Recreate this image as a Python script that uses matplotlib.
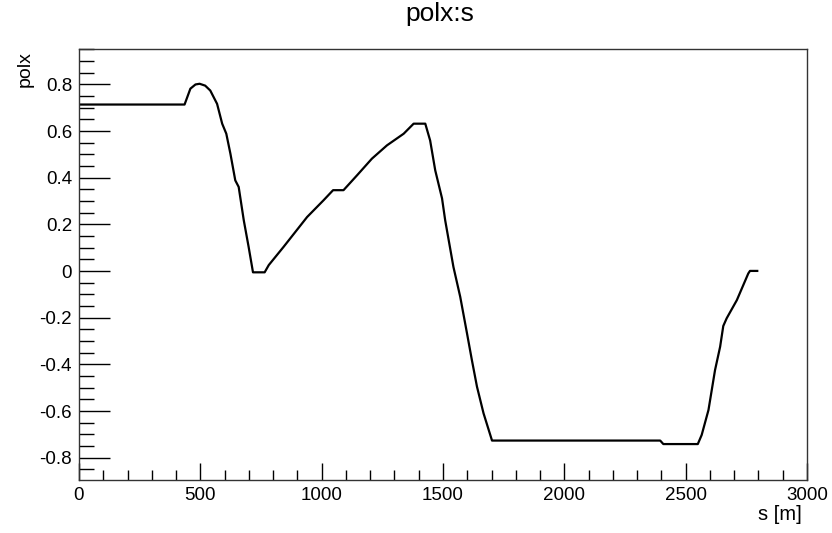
import numpy as np
import matplotlib.pyplot as plt
from matplotlib.ticker import MultipleLocator

# polx vs s
s = [0, 435, 459, 480, 497, 520, 541, 569, 590, 607, 624, 644, 658, 679, 699, 717,
     765, 782, 843, 940, 1008, 1047, 1090, 1146, 1207, 1269, 1338, 1379, 1427,
     1447, 1468, 1496, 1509, 1543, 1571, 1599, 1619, 1640, 1667, 1702,
     2395, 2408, 2550, 2566, 2594, 2621, 2642, 2655, 2669, 2711, 2758, 2765, 2795]
polx = [0.714, 0.714, 0.782, 0.800, 0.803, 0.795, 0.774, 0.717, 0.632, 0.589, 0.503,
        0.389, 0.361, 0.218, 0.104, -0.005,
        -0.005, 0.026, 0.104, 0.232, 0.304, 0.347, 0.347, 0.411, 0.482, 0.539, 0.589,
        0.632, 0.632,
        0.560, 0.432, 0.312, 0.218, 0.018, -0.110, -0.267, -0.381, -0.495, -0.609, -0.726,
        -0.726, -0.741, -0.741, -0.702, -0.595, -0.424, -0.324, -0.235, -0.202, -0.124,
        -0.010, 0.001, 0.001]

plt.rcParams['font.family'] = ['Liberation Sans', 'DejaVu Sans']

fig = plt.figure(figsize=(8.32, 5.33), dpi=100)
ax = fig.add_axes([79 / 832, 1 - 480 / 533, (807 - 79) / 832, (480 - 49) / 533])

ax.plot(s, polx, color='black', lw=1.6)

ax.set_xlim(0, 3000)
ax.set_ylim(-0.895, 0.952)

ax.xaxis.set_major_locator(MultipleLocator(500))
ax.xaxis.set_minor_locator(MultipleLocator(100))
ax.yaxis.set_major_locator(MultipleLocator(0.2))
ax.yaxis.set_minor_locator(MultipleLocator(0.05))
ax.yaxis.set_major_formatter(plt.FuncFormatter(lambda v, p: '0' if abs(v) < 1e-9 else f'{v:g}'))

ax.tick_params(which='both', direction='in', top=False, right=False,
               labelsize=13.5, colors='black', width=1)
ax.tick_params(axis='x', which='major', length=12, pad=5)
ax.tick_params(axis='x', which='minor', length=7)
ax.tick_params(axis='y', which='major', length=22, pad=5)
ax.tick_params(axis='y', which='minor', length=11)
for sp in ax.spines.values():
    sp.set_linewidth(1)
    sp.set_color('#333333')

fig.text(440 / 832, 1 - 14 / 533, 'polx:s', ha='center', va='center', fontsize=19)
fig.text(802 / 832, 1 - 515 / 533, 's [m]', ha='right', va='center', fontsize=14.5)
fig.text(25 / 832, 1 - 51 / 533, 'polx', ha='center', va='top', rotation=90, fontsize=14)

fig.savefig('out.png', dpi=100)
